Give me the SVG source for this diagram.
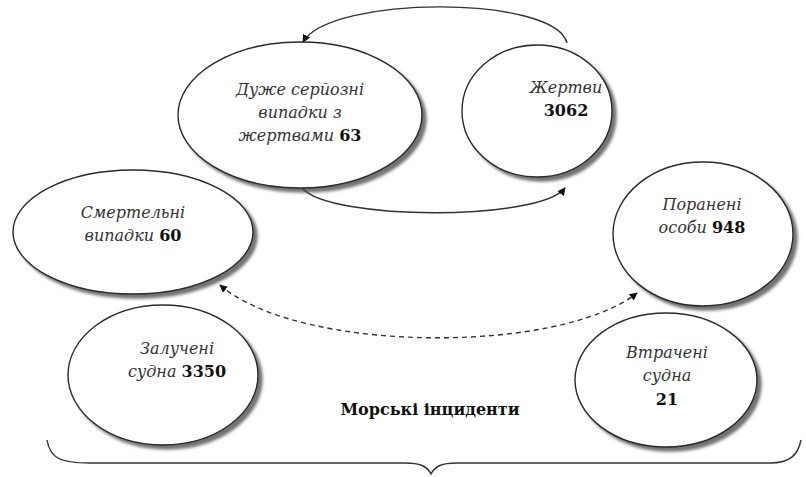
<svg xmlns="http://www.w3.org/2000/svg" width="806" height="477" viewBox="0 0 806 477">
<style>
.node ellipse{fill:#fff;stroke:#2a2a2a;stroke-width:1.4;filter:url(#sh)}
text{font-family:'DejaVu Serif','Liberation Serif',serif}
.t{font-size:16px;fill:#333;text-anchor:middle;font-style:italic}
.b{font-style:normal;font-weight:bold;fill:#111}
.c{fill:none;stroke:#333;stroke-width:1.4}
.d{stroke-dasharray:5 4}
</style>
<defs>
<filter id="sh" x="-10%" y="-10%" width="125%" height="125%">
<feDropShadow dx="4" dy="4" stdDeviation="1.8" flood-color="#444" flood-opacity="0.75"/>
</filter>
<marker id="ah" viewBox="0 0 10 10" refX="9" refY="5" markerWidth="8" markerHeight="8" markerUnits="userSpaceOnUse" orient="auto-start-reverse">
<path d="M0,0 L10,5 L0,10 z" fill="#111"/>
</marker>
</defs>
<g id="connectors">
<path class="c" d="M567,43 C555,-5 330,-5 303,42" marker-end="url(#ah)"/>
<path class="c" d="M302,188 C330,221 540,221 565,188" marker-end="url(#ah)"/>
<path class="c d" d="M220,285 C300,354 560,354 637,293" marker-start="url(#ah)" marker-end="url(#ah)"/>
</g>
<g id="n-fatal" class="node">
<ellipse cx="133" cy="232" rx="120" ry="62"/>
<text class="t" x="133" y="218">Смертельні</text>
<text class="t" x="133" y="241">випадки <tspan class="b">60</tspan></text>
</g>
<g id="n-injured" class="node">
<ellipse cx="703" cy="234" rx="90" ry="72"/>
<text class="t" x="702" y="210">Поранені</text>
<text class="t" x="702" y="233">особи <tspan class="b">948</tspan></text>
</g>
<g id="n-serious" class="node">
<ellipse cx="300" cy="115" rx="122" ry="73"/>
<text class="t" x="300" y="95">Дуже серйозні</text>
<text class="t" x="300" y="118">випадки з</text>
<text class="t" x="300" y="141">жертвами <tspan class="b">63</tspan></text>
</g>
<g id="n-victims" class="node">
<ellipse cx="537" cy="111" rx="75" ry="66"/>
<text class="t" x="566" y="93">Жертви</text>
<text class="t b" x="566" y="116">3062</text>
</g>
<g id="n-ships" class="node">
<ellipse cx="163" cy="375" rx="95" ry="70"/>
<text class="t" x="177" y="354">Залучені</text>
<text class="t" x="177" y="377">судна <tspan class="b">3350</tspan></text>
</g>
<g id="n-lost" class="node">
<ellipse cx="666" cy="380" rx="91" ry="67"/>
<text class="t" x="667" y="358">Втрачені</text>
<text class="t" x="667" y="381">судна</text>
<text class="t b" x="667" y="405">21</text>
</g>
<g id="brace">
<path class="c" d="M47,440 C50,458 60,463 90,463 L405,463 C420,463 427,466 431,474 C435,466 442,463 457,463 L770,463 C790,463 798,455 801,440"/>
<text class="t b" x="430" y="415">Морські інциденти</text>
</g>
</svg>
